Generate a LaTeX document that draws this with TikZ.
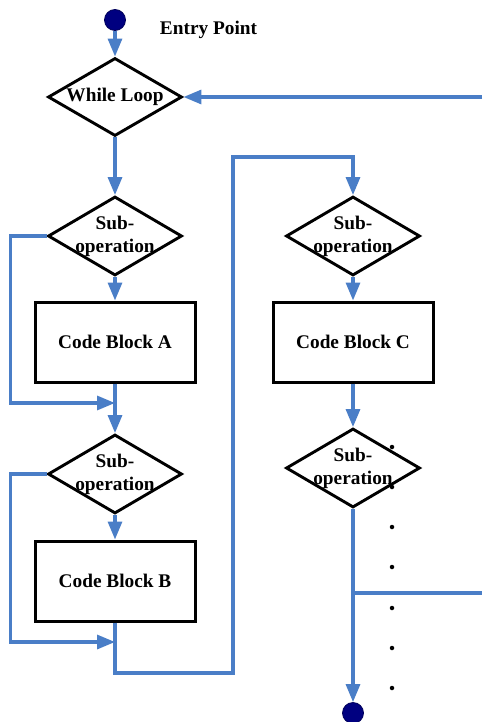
\documentclass[tikz,border=0pt]{standalone}
\usepackage{fontspec}
\setmainfont{Liberation Serif}
\usetikzlibrary{shapes.geometric,arrows.meta}
\definecolor{flow}{HTML}{4A7EC7}
\definecolor{termfill}{HTML}{000080}
\tikzset{
 dec/.style={diamond,draw=black,line width=2.9pt,inner sep=0pt,minimum width=134pt,minimum height=79pt},
 blk/.style={rectangle,draw=black,line width=3pt,minimum width=160pt,minimum height=80pt,inner sep=0pt,font=\bfseries\fontsize{19.3}{23}\selectfont},
 lbl/.style={font=\bfseries\fontsize{19.3}{23}\selectfont,align=center,inner sep=0pt},
 term/.style={circle,fill=termfill,draw=termfill!70!black,line width=0.8pt,minimum size=21pt,inner sep=0pt},
 flowline/.style={draw=flow,line width=3.2pt},
 flowarrow/.style={flowline,-{Triangle[length=18pt,width=14pt]}},
 dotmark/.style={circle,fill=black,minimum size=4.5pt,inner sep=0pt},
}
\begin{document}
\begin{tikzpicture}[x=1pt,y=-1pt]
\useasboundingbox[fill=white] (0,0) rectangle (482,722);
% nodes
\node[term] (start) at (115,20) {};
\node[lbl,anchor=base] (entrytxt) at (208.5,35) {Entry Point};
\node[dec,minimum width=134pt,minimum height=78pt] (while) at (115,97) {};
\node[lbl] (whiletxt) at (115,97) {While Loop};

\node[dec] (s1) at (115,236) {};
\node[lbl] (s1t) at (115,236) {Sub-\\operation};
\node[blk] (A) at (115,342) {Code Block A};

\node[dec] (s2) at (115,474) {};
\node[lbl] (s2t) at (115,474) {Sub-\\operation};
\node[blk] (B) at (115,581) {Code Block B};

\node[dec] (sC) at (353,236) {};
\node[lbl] (sCt) at (353,236) {Sub-\\operation};
\node[blk] (C) at (353,342) {Code Block C};

\node[dec] (s4) at (353,468) {};
\node[lbl] (s4t) at (353,468) {Sub-\\operation};
\node[term] (stop) at (353,713) {};

% coordinates
\coordinate (in1) at (482,97);
\coordinate (j1) at (115,403);
\coordinate (j2) at (115,642);
\coordinate (k1) at (233,673);
\coordinate (k2) at (233,157);
\coordinate (br) at (353,593);
\coordinate (out2) at (482,593);

% connectors
\draw[flowarrow] (start) -- (while.north);
\draw[flowarrow] (in1) -- (while.east);
\draw[flowarrow] (while.south) -- (s1.north);
\draw[flowarrow] (s1.south) -- (A.north);
\draw[flowarrow] (s1.west) -- ++(-36,0) |- (j1);
\draw[flowarrow] (A.south) -- (s2.north);
\draw[flowarrow] (s2.south) -- (B.north);
\draw[flowarrow] (s2.west) -- ++(-36,0) |- (j2);
\draw[flowarrow] (B.south) |- (k1) -- (k2) -| (sC.north);
\draw[flowarrow] (sC.south) -- (C.north);
\draw[flowarrow] (C.south) -- (s4.north);
\draw[flowarrow] (s4.south) -- (stop.north);
\draw[flowline] (br) -- (out2);

% dots
\foreach \i/\y in {1/447,2/487,3/527,4/567,5/608,6/648,7/688}
  \node[dotmark] (dot\i) at (392,\y) {};
\end{tikzpicture}
\end{document}
